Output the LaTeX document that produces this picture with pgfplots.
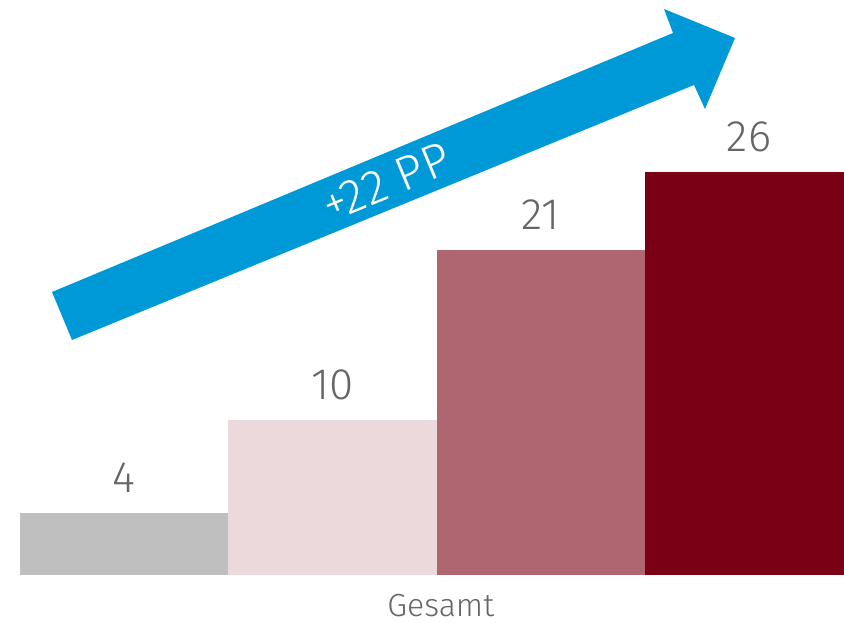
\documentclass[border=0pt]{standalone}
\usepackage{fontspec}
\setmainfont{Fira Sans}[UprightFont=* Light]
\usepackage{pgfplots}
\pgfplotsset{compat=1.18}
\definecolor{cgray}{HTML}{BFBFBF}
\definecolor{cpink}{HTML}{EBD9DC}
\definecolor{cmauve}{HTML}{B06670}
\definecolor{cdark}{HTML}{7A0016}
\definecolor{cblue}{HTML}{0099D8}
\definecolor{ctext}{HTML}{666666}
\begin{document}
\begin{tikzpicture}
\begin{axis}[name=ax, scale only axis, width=422pt, height=311pt,
  xmin=-0.096, xmax=3.956, ymin=-3.03, ymax=37.1,
  hide axis, ybar, bar width=1, bar shift=0pt,
  /pgf/number format/assume math mode=true,
  nodes near coords,
  every node near coord/.append style={font=\fontsize{22}{22}\selectfont, text=ctext, anchor=center, yshift=17.5pt},
]
\addplot[fill=cgray, draw=none] coordinates {(0.5,4)};
\addplot[fill=cpink, draw=none] coordinates {(1.5,10)};
\addplot[fill=cmauve, draw=none] coordinates {(2.5,21)};
\addplot[fill=cdark, draw=none] coordinates {(3.5,26)};
\node[font=\fontsize{16}{16}\selectfont, text=ctext] at (axis cs:2.02,-1.94) {Gesamt};
\fill[cblue] (rel axis cs:{72/844},{1-340/622}) -- (rel axis cs:{52/844},{1-292/622})
  -- (rel axis cs:{673/844},{1-33/622}) -- (rel axis cs:{664/844},{1-9/622})
  -- (rel axis cs:{735/844},{1-38/622}) -- (rel axis cs:{705/844},{1-109/622})
  -- (rel axis cs:{694/844},{1-85/622}) -- cycle;
\node[rotate=22.5, text=white, font=\fontsize{24}{24}\selectfont] at (rel axis cs:{386/844},{1-182/622}) {+22 PP};
\end{axis}
\pgfresetboundingbox
\useasboundingbox (ax.south west) rectangle (ax.north east);
\end{tikzpicture}
\end{document}
